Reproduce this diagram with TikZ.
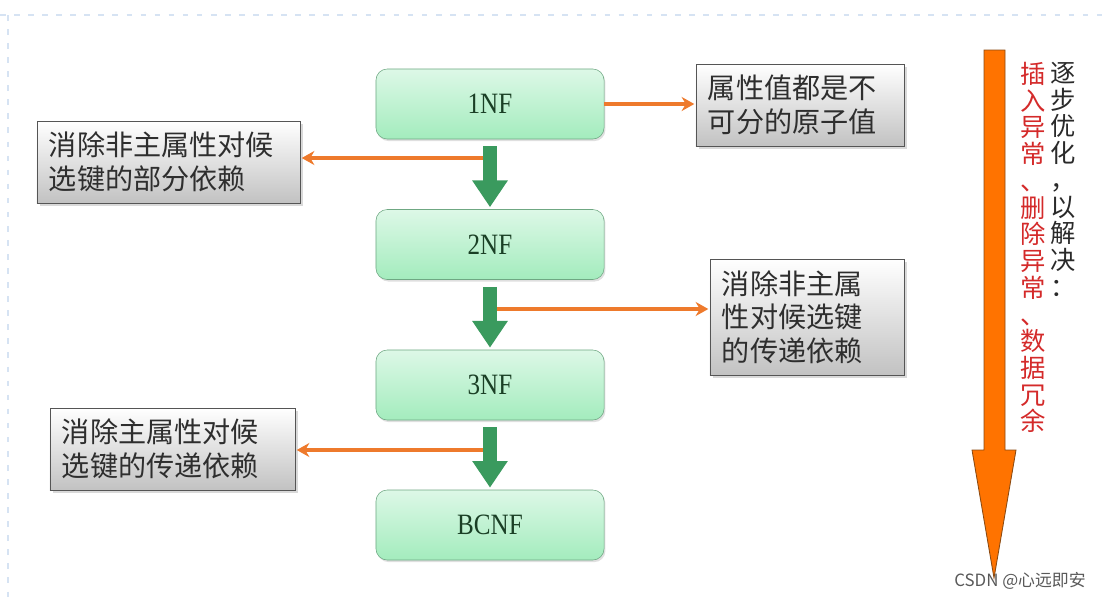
\documentclass[tikz,border=0pt]{standalone}
\usepackage{fontspec}
\usepackage{xcolor}
\usepackage{tikz}
\usetikzlibrary{arrows.meta,shadows}

\newfontfamily\cjk{Noto Sans CJK SC}
\newfontfamily\nffont{Liberation Serif}[FakeStretch=0.85]

\definecolor{nftop}{HTML}{DDF8E7}
\definecolor{nfbottom}{HTML}{A3ECBD}
\definecolor{nfborder}{HTML}{6FA883}
\definecolor{nftext}{HTML}{1A3F25}
\definecolor{notegray}{HTML}{C2C2C2}
\definecolor{noteborder}{HTML}{555555}
\definecolor{notetext}{HTML}{2E2E2E}
\definecolor{flowgreen}{HTML}{3A9A5E}
\definecolor{sideorange}{HTML}{EE7A2C}
\definecolor{bigorange}{HTML}{FF7300}
\definecolor{bigedge}{HTML}{8A4A12}
\definecolor{optred}{HTML}{D42A2A}
\definecolor{optblack}{HTML}{2A2A2A}
\definecolor{pageedge}{HTML}{D6E3F3}

\begin{document}
\begin{tikzpicture}
	[
	x=0.025cm, y=-0.025cm,
	greenbox/.style={
		draw=nfborder,
		rounded corners=8pt,
		top color=nftop,
		bottom color=nfbottom,
		minimum width=5.7cm,
		minimum height=1.75cm,
		text=nftext,
		font=\nffont\fontsize{21}{23}\selectfont,
		drop shadow={shadow xshift=1pt, shadow yshift=-1.5pt, opacity=0.25}
	},
	graybox/.style={
		draw=noteborder,
		top color=white,
		bottom color=notegray,
		inner xsep=0.3cm,
		align=left,
		text=notetext,
		font=\cjk\fontsize{20}{24}\selectfont,
		drop shadow={shadow xshift=2pt, shadow yshift=-2pt, opacity=0.3}
	},
	flowarrow/.style={
		draw=flowgreen,
		line width=10.5pt,
		-{Triangle[length=19pt,width=24pt]},
		shorten <=0.175cm,
		shorten >=0.05cm
	},
	sidearrow/.style={
		draw=sideorange,
		line width=2.6pt,
		-{Stealth[length=9pt,width=10pt]},
		shorten >=1pt
	},
	vtext/.style={
		align=center,
		inner sep=0pt,
		font=\cjk\fontsize{18}{19}\selectfont
	}
	]
	\useasboundingbox (0,0) rectangle (1102,599);
	
	% page edge
	\draw[pageedge, line width=2pt, dash pattern=on 4pt off 6pt] (0,15) -- (1102,15);
	\draw[pageedge, line width=2pt, dash pattern=on 4pt off 6pt] (8,15) -- (8,599);
	
	% normal forms
	\node[greenbox] (nf_one) at (490,104) {1NF};
	\node[greenbox] (nf_two) at (490,244.5) {2NF};
	\node[greenbox] (nf_three) at (490,385) {3NF};
	\node[greenbox] (nf_bcnf) at (490,525) {BCNF};
	
	% notes
	\node[graybox, text width=4.6cm, minimum height=2.05cm] (atomic_note) at (800,105)
	{属性值都是不\\可分的原子值};
	
	\node[graybox, text width=5.975cm, minimum height=2.05cm] (partial_note) at (168.5,162)
	{消除非主属性对候\\选键的部分依赖};
	
	\node[graybox, text width=4.25cm, minimum height=2.9cm] (transitive_note) at (807,317)
	{消除非主属\\性对候选键\\的传递依赖};
	
	\node[graybox, text width=5.525cm, minimum height=2.05cm] (prime_note) at (172.5,449)
	{消除主属性对候\\选键的传递依赖};
	
	% split points on the green arrows
	\coordinate (split_one) at (490,158);
	\coordinate (split_two) at (490,309);
	\coordinate (split_three) at (490,450);
	
	% orange arrows
	\draw[sidearrow] (nf_one.east) -- (nf_one.east -| atomic_note.west);
	\draw[sidearrow] (split_one) -- (split_one -| partial_note.east);
	\draw[sidearrow] (split_two) -- (split_two -| transitive_note.west);
	\draw[sidearrow] (split_three) -- (split_three -| prime_note.east);
	
	% green arrows
	\draw[flowarrow] (nf_one.south) -- (nf_two.north);
	\draw[flowarrow] (nf_two.south) -- (nf_three.north);
	\draw[flowarrow] (nf_three.south) -- (nf_bcnf.north);
	
	% big arrow on the right
	\filldraw[draw=bigedge, fill=bigorange, line width=0.6pt]
	(984,50) -- (1005,50) -- (1005,450) -- (1016,450) -- (994,578)
	-- (972,450) -- (984,450) -- cycle;
	
	\node[vtext, text=optred, anchor=north] (anomaly_text) at (1033,62)
	{插\\入\\异\\常\\、\\删\\除\\异\\常\\、\\数\\据\\冗\\余};
	\node[vtext, text=optblack, anchor=north] (goal_text) at (1063,62)
	{逐\\步\\优\\化\\，\\以\\解\\决\\：};
	
	% watermark
	\node[font=\cjk\fontsize{12}{14}\selectfont, text=black!65] (mark) at (1020,581)
	{CSDN @心远即安};
	
\end{tikzpicture}
\end{document}
